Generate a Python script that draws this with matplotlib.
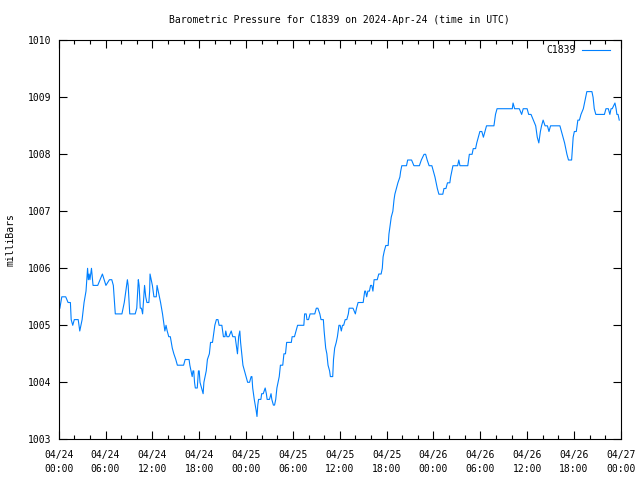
import datetime as dt
import matplotlib
matplotlib.use("Agg")
import matplotlib.pyplot as plt
import matplotlib.dates as mdates

# hours since 2024-04-24 00:00 UTC, pressure in mb
hours = [
    0.15, 0.4, 0.9, 1.2, 1.5, 1.6, 1.8, 2.0, 2.5, 2.7, 3.0, 3.25, 3.5, 3.7, 3.8, 3.9, 4.0, 4.2, 4.4, 5.0,
    5.6, 6.05, 6.5, 6.8, 7.0, 7.25, 8.1, 8.4, 8.6, 8.8, 8.9, 9.1, 9.8, 10.0, 10.2, 10.3, 10.45, 10.6, 10.75, 11.0,
    11.15, 11.3, 11.55, 11.65, 11.7, 11.85, 12.0, 12.2, 12.5, 12.6, 12.75, 12.9, 13.05, 13.3, 13.5, 13.6, 13.75, 13.9, 14.1, 14.3,
    14.55, 14.75, 15.0, 15.2, 16.0, 16.2, 16.7, 16.8, 16.95, 17.1, 17.2, 17.3, 17.4, 17.5, 17.75, 17.9, 18.0, 18.1, 18.3, 18.5,
    18.6, 18.9, 19.05, 19.3, 19.45, 19.7, 19.9, 20.0, 20.2, 20.4, 20.55, 20.9, 21.1, 21.3, 21.4, 21.55, 21.8, 22.1, 22.3, 22.6,
    22.8, 22.9, 23.05, 23.2, 23.3, 23.45, 23.6, 23.8, 24.0, 24.2, 24.45, 24.65, 24.75, 24.85, 25.05, 25.3, 25.4, 25.5, 25.6, 25.9,
    26.0, 26.2, 26.45, 26.6, 26.7, 27.0, 27.2, 27.3, 27.5, 27.65, 27.8, 27.95, 28.1, 28.25, 28.4, 28.7, 28.85, 29.05, 29.2, 29.8,
    29.9, 30.2, 30.4, 30.6, 31.4, 31.5, 31.7, 31.8, 32.0, 32.2, 32.5, 32.8, 33.0, 33.2, 33.45, 33.6, 33.9, 34.0, 34.2, 34.35,
    34.5, 34.7, 34.8, 35.1, 35.2, 35.35, 35.55, 35.7, 35.9, 36.05, 36.2, 36.35, 36.5, 36.7, 36.9, 37.1, 37.2, 37.7, 38.0, 38.15,
    38.35, 38.5, 39.0, 39.2, 39.3, 39.45, 39.6, 39.8, 39.95, 40.1, 40.25, 40.4, 40.5, 40.8, 41.0, 41.3, 41.45, 41.55, 41.7, 41.9,
    42.2, 42.3, 42.4, 42.6, 42.8, 42.95, 43.06, 43.25, 43.45, 43.7, 43.8, 43.95, 44.55, 44.7, 45.2, 45.5, 46.2, 46.45, 46.8, 47.0,
    47.2, 47.45, 47.8, 48.0, 48.2, 48.35, 48.5, 48.7, 49.2, 49.35, 49.6, 49.8, 50.1, 50.2, 50.35, 50.5, 51.1, 51.25, 51.4, 51.6,
    52.4, 52.5, 52.6, 52.95, 53.1, 53.4, 53.55, 53.75, 53.95, 54.2, 54.4, 54.6, 54.8, 55.0, 55.75, 55.95, 56.15, 56.3, 58.1, 58.2,
    58.4, 58.7, 59.0, 59.3, 59.5, 60.0, 60.2, 60.5, 60.8, 61.1, 61.3, 61.5, 61.7, 61.85, 62.05, 62.3, 62.6, 62.8, 63.0, 64.2,
    64.4, 64.6, 64.8, 64.95, 65.1, 65.3, 65.7, 65.9, 66.05, 66.3, 66.5, 66.7, 66.9, 67.2, 67.35, 67.5, 67.65, 68.3, 68.45, 68.6,
    68.8, 69.9, 70.1, 70.4, 70.6, 70.75, 70.9, 71.25, 71.4, 71.5, 71.65, 71.8,
]
pressure = [
    1005.3, 1005.5, 1005.5, 1005.4, 1005.4, 1005.1, 1005.0, 1005.1, 1005.1, 1004.9, 1005.1, 1005.4, 1005.6, 1006.0, 1005.8, 1005.9, 1005.8, 1006.0, 1005.7, 1005.7,
    1005.9, 1005.7, 1005.8, 1005.8, 1005.7, 1005.2, 1005.2, 1005.4, 1005.6, 1005.8, 1005.7, 1005.2, 1005.2, 1005.3, 1005.8, 1005.7, 1005.3, 1005.3, 1005.2, 1005.7,
    1005.5, 1005.4, 1005.4, 1005.6, 1005.9, 1005.8, 1005.7, 1005.5, 1005.5, 1005.7, 1005.6, 1005.5, 1005.4, 1005.2, 1005.0, 1004.9, 1005.0, 1004.9, 1004.8, 1004.8,
    1004.6, 1004.5, 1004.4, 1004.3, 1004.3, 1004.4, 1004.4, 1004.3, 1004.2, 1004.1, 1004.2, 1004.2, 1004.0, 1003.9, 1003.9, 1004.2, 1004.2, 1004.0, 1003.9, 1003.8,
    1004.0, 1004.2, 1004.4, 1004.5, 1004.7, 1004.7, 1004.9, 1005.0, 1005.1, 1005.1, 1005.0, 1005.0, 1004.8, 1004.8, 1004.9, 1004.8, 1004.8, 1004.9, 1004.8, 1004.8,
    1004.6, 1004.5, 1004.8, 1004.9, 1004.7, 1004.5, 1004.3, 1004.2, 1004.1, 1004.0, 1004.0, 1004.1, 1004.1, 1003.9, 1003.7, 1003.5, 1003.4, 1003.6, 1003.7, 1003.7,
    1003.8, 1003.8, 1003.9, 1003.8, 1003.7, 1003.7, 1003.8, 1003.7, 1003.6, 1003.6, 1003.7, 1003.9, 1004.0, 1004.1, 1004.3, 1004.3, 1004.5, 1004.5, 1004.7, 1004.7,
    1004.8, 1004.8, 1004.9, 1005.0, 1005.0, 1005.2, 1005.2, 1005.1, 1005.1, 1005.2, 1005.2, 1005.2, 1005.3, 1005.3, 1005.2, 1005.1, 1005.1, 1004.9, 1004.6, 1004.5,
    1004.3, 1004.2, 1004.1, 1004.1, 1004.4, 1004.6, 1004.7, 1004.8, 1005.0, 1005.0, 1004.9, 1005.0, 1005.0, 1005.1, 1005.1, 1005.2, 1005.3, 1005.3, 1005.2, 1005.3,
    1005.4, 1005.4, 1005.4, 1005.6, 1005.6, 1005.5, 1005.6, 1005.6, 1005.7, 1005.7, 1005.6, 1005.8, 1005.8, 1005.8, 1005.9, 1005.9, 1006.0, 1006.2, 1006.3, 1006.4,
    1006.4, 1006.6, 1006.7, 1006.9, 1007.0, 1007.2, 1007.3, 1007.4, 1007.5, 1007.6, 1007.7, 1007.8, 1007.8, 1007.9, 1007.9, 1007.8, 1007.8, 1007.9, 1008.0, 1008.0,
    1007.9, 1007.8, 1007.8, 1007.7, 1007.6, 1007.5, 1007.4, 1007.3, 1007.3, 1007.4, 1007.4, 1007.5, 1007.5, 1007.6, 1007.7, 1007.8, 1007.8, 1007.9, 1007.8, 1007.8,
    1007.8, 1007.9, 1008.0, 1008.0, 1008.1, 1008.1, 1008.2, 1008.3, 1008.4, 1008.4, 1008.3, 1008.4, 1008.5, 1008.5, 1008.5, 1008.7, 1008.8, 1008.8, 1008.8, 1008.9,
    1008.8, 1008.8, 1008.8, 1008.7, 1008.8, 1008.8, 1008.7, 1008.7, 1008.6, 1008.5, 1008.3, 1008.2, 1008.4, 1008.5, 1008.6, 1008.5, 1008.5, 1008.4, 1008.5, 1008.5,
    1008.4, 1008.3, 1008.2, 1008.1, 1008.0, 1007.9, 1007.9, 1008.3, 1008.4, 1008.4, 1008.6, 1008.6, 1008.7, 1008.8, 1008.9, 1009.0, 1009.1, 1009.1, 1009.0, 1008.8,
    1008.7, 1008.7, 1008.8, 1008.8, 1008.7, 1008.8, 1008.8, 1008.9, 1008.8, 1008.7, 1008.7, 1008.6,
]
station = "C1839"
start = dt.datetime(2024, 4, 24)
end = dt.datetime(2024, 4, 27)


def main():
    plt.rcParams['font.family'] = ['DejaVu Sans Mono']
    plt.rcParams['font.size'] = 7

    times = [start + dt.timedelta(hours=h) for h in hours]

    fig = plt.figure(figsize=(6.4, 4.8), dpi=100)
    ax = fig.add_axes([0.0917, 0.0848, 0.8783, 0.8312])
    ax.plot(times, pressure, color='#0080ff', linewidth=0.8, label=station)

    ax.set_xlim(start, end)
    ax.set_ylim(1003, 1010)
    ax.set_yticks(range(1003, 1011))
    ax.xaxis.set_major_locator(mdates.HourLocator(byhour=[0, 6, 12, 18]))
    ax.xaxis.set_minor_locator(mdates.HourLocator(interval=2))
    ax.xaxis.set_major_formatter(mdates.DateFormatter('%m/%d\n%H:%M'))

    ax.tick_params(which='both', direction='in', top=True, right=True, width=0.8)
    ax.tick_params(which='major', length=6)
    ax.tick_params(which='minor', length=3)
    ax.tick_params(axis='x', pad=8)
    ax.tick_params(axis='y', pad=5)
    for s in ax.spines.values():
        s.set_linewidth(0.8)

    ax.set_title("Barometric Pressure for C1839 on 2024-Apr-24 (time in UTC)", fontsize=7, pad=12.5)
    ax.set_ylabel("milliBars", labelpad=9)
    ax.legend(loc='upper right', bbox_to_anchor=(1 - 3.5 / 562, 1 + 3 / 399),
              frameon=False, markerfirst=False,
              handlelength=2.8, borderaxespad=0.4, handletextpad=0.7)

    fig.canvas.draw()
    for lbl in ax.get_xticklabels():
        lbl.set_linespacing(1.45)

    fig.savefig("out.png", dpi=100)


if __name__ == '__main__':
    main()
